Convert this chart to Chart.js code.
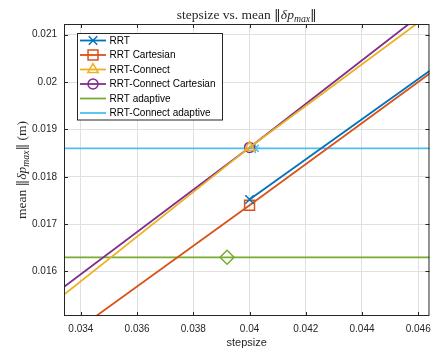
<!DOCTYPE html>
<html>
<head>
<meta charset="utf-8">
<script src="https://cdn.jsdelivr.net/npm/chart.js@4.4.1/dist/chart.umd.min.js"></script>
<style>
  html, body { margin: 0; padding: 0; background: #fff; }
  #wrap { width: 438px; height: 356px; }
</style>
</head>
<body>
<div id="wrap"><canvas id="chart" width="438" height="356"></canvas></div>
<script>
// mean ||dp_max|| per step size (only 0.04 lies inside the view window)
const stepsizes = [0.03, 0.04, 0.05];
const rrtMean = [null, 0.01752, 0.02176];
const rrtCartesianMean = [0.01311, 0.01740, 0.02174];
const rrtConnectMean = [0.01391, 0.01862, 0.02301];
const rrtConnectCartesianMean = [0.01416, 0.01862, 0.02322];

// adaptive planners: one mean value at their average step size
const rrtAdaptiveStep = 0.0392;
const rrtAdaptiveMean = 0.0163;
const connectAdaptiveStep = 0.0402;
const connectAdaptiveMean = 0.0186;

const xTicks = [0.034, 0.036, 0.038, 0.04, 0.042, 0.044, 0.046];
const yTicks = [0.016, 0.017, 0.018, 0.019, 0.02, 0.021];

const AXIS = '#262626';
const SANS = '"Liberation Sans", Arial, sans-serif';
const SERIF = '"Liberation Serif", "Times New Roman", serif';
const BARS = '"DejaVu Serif", serif';

const pts = vals => stepsizes.map((s, i) => ({ x: s, y: vals[i] }));
const hline = v => [{ x: 0.03, y: v }, { x: 0.05, y: v }];

function series(label, color, data, marker, radius) {
    return {
        label: label,
        data: data,
        borderColor: color,
        backgroundColor: color,
        borderWidth: 1.8,
        pointStyle: marker || false,
        pointRadius: marker ? radius : 0,
        pointBorderWidth: 1.5,
        pointBackgroundColor: 'rgba(0,0,0,0)',
        pointBorderColor: color,
        spanGaps: false,
        inLegend: true
    };
}

function marker(color, style, radius, x, y) {
    return {
        data: [{ x: x, y: y }],
        showLine: false,
        pointStyle: style,
        pointRadius: radius,
        pointBorderWidth: 1.5,
        pointBackgroundColor: 'rgba(0,0,0,0)',
        pointBorderColor: color,
        inLegend: false
    };
}

// text with italic / subscript runs, centred on cx
function drawRich(ctx, parts, cx, cy, size) {
    const fontFor = s => {
        if (s === 'n') return size + 'px ' + BARS;
        return (s === 'r' ? '' : 'italic ') + (s === 's' ? size * 0.72 : size) + 'px ' + SERIF;
    };
    let w = 0;
    parts.forEach(([t, s]) => { ctx.font = fontFor(s); w += ctx.measureText(t).width; });
    let x = cx - w / 2;
    ctx.textAlign = 'left';
    ctx.textBaseline = 'alphabetic';
    parts.forEach(([t, s]) => {
        ctx.font = fontFor(s);
        ctx.fillText(t, x, s === 's' ? cy + size * 0.25 : cy);
        x += ctx.measureText(t).width;
    });
}

const normParts = [['\u2016', 'n'], ['\u03b4p', 'i'], ['max', 's'], ['\u2016', 'n']];

const framePlugin = {
    id: 'frame',
    afterDraw(chart) {
        const { ctx, chartArea: a, scales: { x, y } } = chart;
        ctx.save();
        ctx.strokeStyle = AXIS;
        ctx.lineWidth = 1;
        ctx.beginPath();
        xTicks.forEach(v => {
            const px = Math.round(x.getPixelForValue(v)) + 0.5;
            ctx.moveTo(px, a.bottom); ctx.lineTo(px, a.bottom - 4);
            ctx.moveTo(px, a.top); ctx.lineTo(px, a.top + 4);
        });
        yTicks.forEach(v => {
            const py = Math.round(y.getPixelForValue(v)) + 0.5;
            ctx.moveTo(a.left, py); ctx.lineTo(a.left + 4, py);
            ctx.moveTo(a.right, py); ctx.lineTo(a.right - 4, py);
        });
        ctx.stroke();
        ctx.strokeRect(a.left + 0.5, a.top + 0.5, a.right - a.left - 1, a.bottom - a.top - 1);

        // legend box
        const lx = 77.5, ly = 33.5, lw = 145, lh = 86.5;
        ctx.fillStyle = '#fff';
        ctx.fillRect(lx, ly, lw, lh);
        ctx.strokeRect(lx, ly, lw, lh);
        const items = chart.data.datasets.filter(d => d.inLegend);
        items.forEach((d, i) => {
            const ry = 40.5 + i * 14.5;
            ctx.strokeStyle = d.borderColor;
            ctx.lineWidth = 1.8;
            ctx.beginPath();
            ctx.moveTo(80, ry); ctx.lineTo(106, ry);
            ctx.stroke();
            if (d.pointStyle) {
                ctx.fillStyle = 'rgba(0,0,0,0)';
                ctx.lineWidth = 1.5;
                Chart.helpers.drawPoint(ctx, {
                    pointStyle: d.pointStyle, radius: d.pointRadius,
                    borderWidth: 1.5, rotation: 0
                }, 93, ry);
            }
            ctx.fillStyle = '#000';
            ctx.font = '10px ' + SANS;
            ctx.textAlign = 'left';
            ctx.textBaseline = 'middle';
            ctx.fillText(d.label, 109.5, ry + 0.5);
        });

        // titles
        ctx.fillStyle = AXIS;
        drawRich(ctx, [['stepsize vs. mean ', 'r']].concat(normParts), (a.left + a.right) / 2, 18.5, 13.5);
        ctx.font = '11px ' + SANS;
        ctx.textAlign = 'center';
        ctx.textBaseline = 'middle';
        ctx.fillText('stepsize', (a.left + a.right) / 2, 343);
        ctx.translate(26, (a.top + a.bottom) / 2);
        ctx.rotate(-Math.PI / 2);
        drawRich(ctx, [['mean ', 'r']].concat(normParts, [[' (m)', 'r']]), 0, 0, 13.5);
        ctx.restore();
    }
};

new Chart(document.getElementById('chart'), {
    type: 'line',
    plugins: [framePlugin],
    data: {
        datasets: [
            series('RRT', '#0072BD', pts(rrtMean), 'crossRot', 6),
            series('RRT Cartesian', '#D95319', pts(rrtCartesianMean), 'rect', 7),
            series('RRT-Connect', '#EDB120', pts(rrtConnectMean), 'triangle', 6),
            series('RRT-Connect Cartesian', '#7E2F8E', pts(rrtConnectCartesianMean), 'circle', 5),
            series('RRT adaptive', '#77AC30', hline(rrtAdaptiveMean)),
            series('RRT-Connect adaptive', '#4DBEEE', hline(connectAdaptiveMean)),
            marker('#77AC30', 'rectRot', 7, rrtAdaptiveStep, rrtAdaptiveMean),
            marker('#4DBEEE', 'star', 5, connectAdaptiveStep, connectAdaptiveMean)
        ]
    },
    options: {
        responsive: false,
        devicePixelRatio: 1,
        animation: false,
        layout: { padding: { left: 0, top: 24, right: 4, bottom: 0 } },
        plugins: {
            legend: { display: false },
            tooltip: { enabled: false }
        },
        scales: {
            x: {
                type: 'linear',
                min: 0.0334,
                max: 0.0464,
                afterBuildTicks: s => { s.ticks = xTicks.map(v => ({ value: v })); },
                afterFit: s => { s.height = 40; },
                grid: { color: '#e0e0e0', drawTicks: false },
                border: { display: false },
                ticks: {
                    padding: 7,
                    color: AXIS,
                    font: { family: SANS, size: 10 },
                    maxRotation: 0,
                    callback: v => String(v)
                }
            },
            y: {
                type: 'linear',
                min: 0.01506,
                max: 0.021226,
                afterBuildTicks: s => { s.ticks = yTicks.map(v => ({ value: v })); },
                afterFit: s => { s.width = 64; },
                grid: { color: '#e0e0e0', drawTicks: false },
                border: { display: false },
                ticks: {
                    padding: 7,
                    color: AXIS,
                    font: { family: SANS, size: 10 },
                    callback: v => String(v)
                }
            }
        }
    }
});
</script>
</body>
</html>
